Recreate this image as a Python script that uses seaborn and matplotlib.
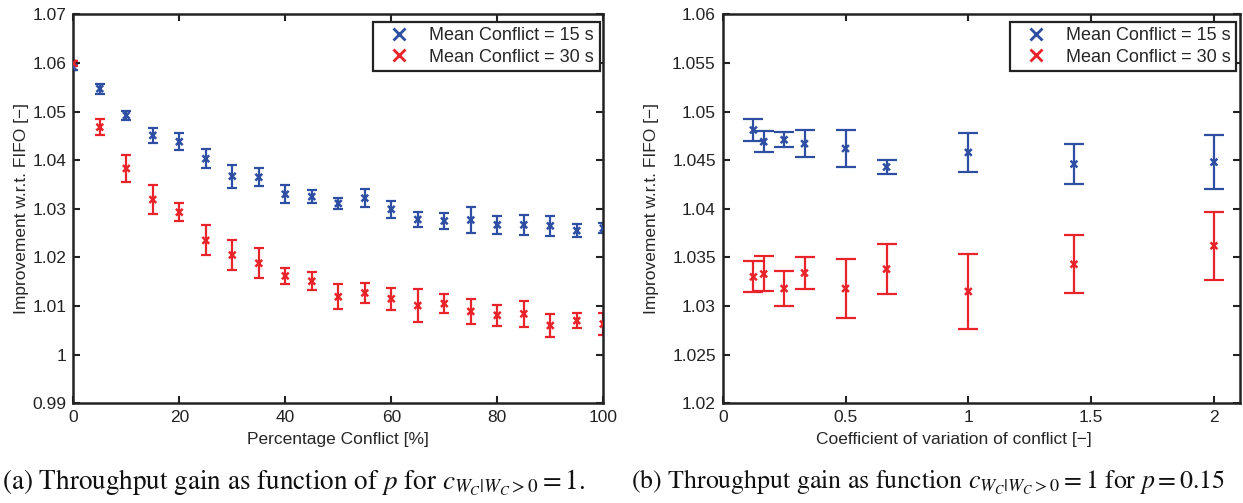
#!/usr/bin/env python3

import matplotlib
matplotlib.use('Agg')
import matplotlib.pyplot as plt     # visual plotting of data
from matplotlib.lines import Line2D
from matplotlib.ticker import FuncFormatter
import seaborn as sns               # visual plotting of data
import pandas as pd     # handling data

# (a) improvement vs percentage conflict
pct_conflict = [0, 5, 10, 15, 20, 25, 30, 35, 40, 45, 50, 55, 60, 65, 70, 75, 80, 85, 90, 95, 100]
gain_15 = [1.0591, 1.0547, 1.0492, 1.0451, 1.0438, 1.0403, 1.0367, 1.0365, 1.0330, 1.0325, 1.0311,
           1.0322, 1.0299, 1.0278, 1.0275, 1.0277, 1.0267, 1.0267, 1.0265, 1.0255, 1.0260]
err_15 = [0.0005, 0.0010, 0.0009, 0.0016, 0.0018, 0.0019, 0.0024, 0.0018, 0.0019, 0.0014, 0.0011,
          0.0018, 0.0018, 0.0015, 0.0016, 0.0027, 0.0018, 0.0021, 0.0020, 0.0014, 0.0010]
gain_30 = [1.0599, 1.0468, 1.0383, 1.0319, 1.0293, 1.0235, 1.0205, 1.0188, 1.0162, 1.0151, 1.0119,
           1.0127, 1.0115, 1.0101, 1.0105, 1.0089, 1.0081, 1.0084, 1.0060, 1.0070, 1.0063]
err_30 = [0.0005, 0.0017, 0.0028, 0.0030, 0.0019, 0.0031, 0.0030, 0.0031, 0.0017, 0.0019, 0.0026,
          0.0020, 0.0023, 0.0034, 0.0019, 0.0026, 0.0022, 0.0027, 0.0023, 0.0015, 0.0023]

# (b) improvement vs coefficient of variation
cv = [0.125, 0.167, 0.25, 0.333, 0.5, 0.667, 1.0, 1.43, 2.0]
cv_gain_15 = [1.0481, 1.0469, 1.0471, 1.0467, 1.0462, 1.0443, 1.0458, 1.0446, 1.0448]
cv_err_15 = [0.0011, 0.0011, 0.00075, 0.0014, 0.0019, 0.0007, 0.0020, 0.0021, 0.0028]
cv_gain_30 = [1.0330, 1.0333, 1.0318, 1.0334, 1.0318, 1.0338, 1.0315, 1.0343, 1.0362]
cv_err_30 = [0.0016, 0.0018, 0.0018, 0.0016, 0.0030, 0.0026, 0.0039, 0.0030, 0.0035]

series = ['Mean Conflict = 15 s', 'Mean Conflict = 30 s']
colors = {series[0]: '#2D4EA2', series[1]: '#E8242A'}


def make_df(x, y15, e15, y30, e30):
    d1 = pd.DataFrame({'x': x, 'y': y15, 'err': e15, 'series': series[0]})
    d2 = pd.DataFrame({'x': x, 'y': y30, 'err': e30, 'series': series[1]})
    return pd.concat([d1, d2], ignore_index=True)


def panel(ax, df, capsize, xlabel):
    for name, sub in df.groupby('series', sort=False):
        ax.errorbar(sub['x'], sub['y'], yerr=sub['err'], fmt='none', ecolor=colors[name],
                    elinewidth=1.6, capsize=capsize, capthick=1.6, zorder=2)
    sns.scatterplot(data=df, x='x', y='y', hue='series', palette=colors, marker='x',
                    s=24, linewidth=1.8, ax=ax, legend=False, zorder=3)
    ax.set_xlabel(xlabel, fontsize=12.5, labelpad=6)
    ax.set_ylabel('Improvement w.r.t. FIFO [\u2212]', fontsize=12.5)
    ax.tick_params(direction='in', top=True, right=True, length=5, width=1.5,
                   labelsize=12.5, colors='#222222', pad=5)
    for sp in ax.spines.values():
        sp.set_linewidth(1.8)
        sp.set_color('#222222')
    fmt = FuncFormatter(lambda v, p: f'{round(v, 4):g}')
    ax.xaxis.set_major_formatter(fmt)
    ax.yaxis.set_major_formatter(fmt)
    handles = [Line2D([], [], linestyle='none', marker='x', markersize=8, markeredgewidth=2,
                      color=colors[s]) for s in series]
    leg = ax.legend(handles, series, loc='upper right', bbox_to_anchor=(0.993, 0.981),
                    borderaxespad=0, fontsize=13, frameon=True, fancybox=False,
                    framealpha=1, edgecolor='#222222', handletextpad=0.6,
                    labelspacing=0.25, borderpad=0.3, handlelength=2.2)
    leg.get_frame().set_linewidth(1.6)


sns.set_theme(style='ticks')
plt.rcParams['font.family'] = ['Liberation Sans', 'DejaVu Sans']
plt.rcParams['mathtext.fontset'] = 'stix'

fig = plt.figure(figsize=(12.43, 5.03), dpi=100)
ax1 = fig.add_axes([0.05897, 0.19821, 0.42639, 0.77336])
ax2 = fig.add_axes([0.58142, 0.19821, 0.41617, 0.77336])

df_a = make_df(pct_conflict, gain_15, err_15, gain_30, err_30)
panel(ax1, df_a, 3.4, 'Percentage Conflict [%]')
ax1.set_xlim(0, 100)
ax1.set_ylim(0.99, 1.07)
ax1.set_xticks([0, 20, 40, 60, 80, 100])
ax1.set_yticks([0.99, 1.0, 1.01, 1.02, 1.03, 1.04, 1.05, 1.06, 1.07])
ax1.yaxis.set_label_coords(-0.0845, 0.5)
ax1.xaxis.set_label_coords(0.5, -0.075)

df_b = make_df(cv, cv_gain_15, cv_err_15, cv_gain_30, cv_err_30)
panel(ax2, df_b, 7, 'Coefficient of variation of conflict [\u2212]')
ax2.set_xlim(0, 2.106)
ax2.set_ylim(1.02, 1.06)
ax2.set_xticks([0, 0.5, 1, 1.5, 2])
ax2.set_yticks([1.02, 1.025, 1.03, 1.035, 1.04, 1.045, 1.05, 1.055, 1.06])
ax2.yaxis.set_label_coords(-0.124, 0.5)
ax2.xaxis.set_label_coords(0.446, -0.075)

fig.text(0.002, 0.040, r'(a) Throughput gain as function of $p$ for $c_{W_C|W_C>0} = 1$.',
         family='STIXGeneral', fontsize=19.5, va='center', ha='left', color='#111111')
fig.text(0.5075, 0.040, r'(b) Throughput gain as function $c_{W_C|W_C>0} = 1$ for $p = 0.15$',
         family='STIXGeneral', fontsize=18.6, va='center', ha='left', color='#111111')

plt.savefig('out.png', dpi=100)
